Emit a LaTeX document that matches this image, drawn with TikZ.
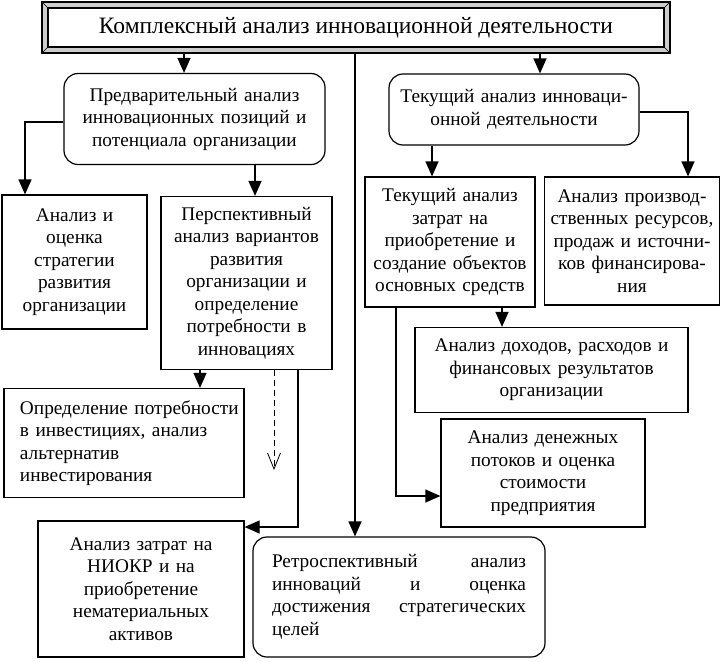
\documentclass[tikz,border=0pt]{standalone}
\usepackage{fontspec}
\setmainfont{Liberation Serif}
\usetikzlibrary{arrows.meta,calc}
\newcommand{\indline}[1]{\hspace*{16pt}\mbox{#1}}
\begin{document}
\begin{tikzpicture}[x=1pt,y=-1pt, line width=1.2pt,
  box/.style={draw, fill=white, inner sep=0pt, align=center, font=\fontsize{19.3}{22.5}\selectfont},
  rbox/.style={box, rounded corners=14pt},
  arr/.style={-{Triangle[length=15pt,width=13pt]}},
  darr/.style={line width=0.8pt, dash pattern=on 6pt off 4pt, -{Straight Barb[length=16pt,width=13pt]}}]
\useasboundingbox (0,0) rectangle (721,662);

% title frame
\node[draw, fill=gray!40, minimum width=628, minimum height=51, inner sep=0pt] (title) at (356,27.5) {};
\draw[line width=0.6pt] (title.north west) -- ++(6,6) (title.north east) -- ++(-6,6)
  (title.south west) -- ++(6,-6) (title.south east) -- ++(-6,-6);
\node[draw, fill=white, minimum width=616, minimum height=39, inner sep=0pt,
  font=\fontsize{23.5}{27}\selectfont] (titletext) at (356,27.5) {Комплексный анализ инновационной деятельности};

% boxes
\node[rbox, minimum width=261, minimum height=91, text width=255] (pre) at (194.5,119)
  {Предварительный анализ\\инновационных позиций и\\потенциала организации};
\node[rbox, minimum width=250, minimum height=71, text width=244] (cur) at (514,109.5)
  {Текущий анализ инноваци-\\онной деятельности};
\node[box, minimum width=145, minimum height=134, text width=140] (strat) at (74.5,262)
  {Анализ и\\оценка\\стратегии\\развития\\организации};
\node[box, minimum width=171, minimum height=173, text width=166] (persp) at (246.5,283)
  {Перспективный\\анализ вариантов\\развития\\организации и\\определение\\потребности в\\инновациях};
\node[box, minimum width=240, minimum height=109, text width=240, align=left] (need) at (124,443)
  {\indline{Определение потребности}\\\indline{в инвестициях, анализ}\\\indline{альтернатив}\\\indline{инвестирования}};
\node[box, minimum width=206, minimum height=136, text width=200] (niokr) at (141,589)
  {Анализ затрат на\\НИОКР и на\\приобретение\\нематериальных\\активов};
\node[rbox, minimum width=292, minimum height=120, text width=254, align=left] (retro) at (399,597)
  {Ретроспективный \hfill анализ\\инноваций \hfill и \hfill оценка\\достижения \hfill стратегических\\целей};
\node[box, minimum width=170, minimum height=130, text width=166] (costs) at (450,242)
  {Текущий анализ\\затрат на\\приобретение и\\создание объектов\\основных средств};
\node[box, minimum width=175, minimum height=128, text width=171] (res) at (632,241)
  {Анализ производ-\\ственных ресурсов,\\продаж и источни-\\ков финансирова-\\ния};
\node[box, minimum width=273, minimum height=85, text width=266] (inc) at (551.5,370)
  {Анализ доходов, расходов и\\финансовых результатов\\организации};
\node[box, minimum width=204, minimum height=108, text width=198] (cash) at (543,473)
  {Анализ денежных\\потоков и оценка\\стоимости\\предприятия};

% connectors
\coordinate (xa) at (184,0);
\coordinate (xb) at (540,0);
\coordinate (xc) at (355,0);
\coordinate (xd) at (25,0);
\coordinate (xe) at (255,0);
\coordinate (xf) at (432,0);
\coordinate (xg) at (688,0);
\coordinate (xh) at (502,0);
\coordinate (xi) at (396,0);
\coordinate (yi) at (0,496);
\coordinate (xj) at (200,0);
\coordinate (xk) at (274,0);
\coordinate (yk) at (0,470);
\coordinate (xl) at (298,0);
\coordinate (yl) at (0,527);

\draw[arr] (title.south -| xa) -- (pre.north -| xa);
\draw[arr] (title.south -| xb) -- (cur.north -| xb);
\draw[arr] (title.south -| xc) -- (retro.north -| xc);
\draw[arr] ([yshift=-3pt]pre.west) -| (xd |- strat.north);
\draw[arr] (pre.south -| xe) -- (persp.north -| xe);
\draw[arr] (cur.south -| xf) -- (costs.north -| xf);
\draw[arr] ([yshift=-2.5pt]cur.east) -| (xg |- res.north);
\draw[arr] (costs.south -| xh) -- (inc.north -| xh);
\draw[arr] (costs.south -| xi) |- (cash.west |- yi);
\draw[arr] (persp.south -| xj) -- (need.north -| xj);
\draw[darr] (persp.south -| xk) -- (xk |- yk);
\draw[arr] (persp.south -| xl) |- (niokr.east |- yl);
\end{tikzpicture}
\end{document}
